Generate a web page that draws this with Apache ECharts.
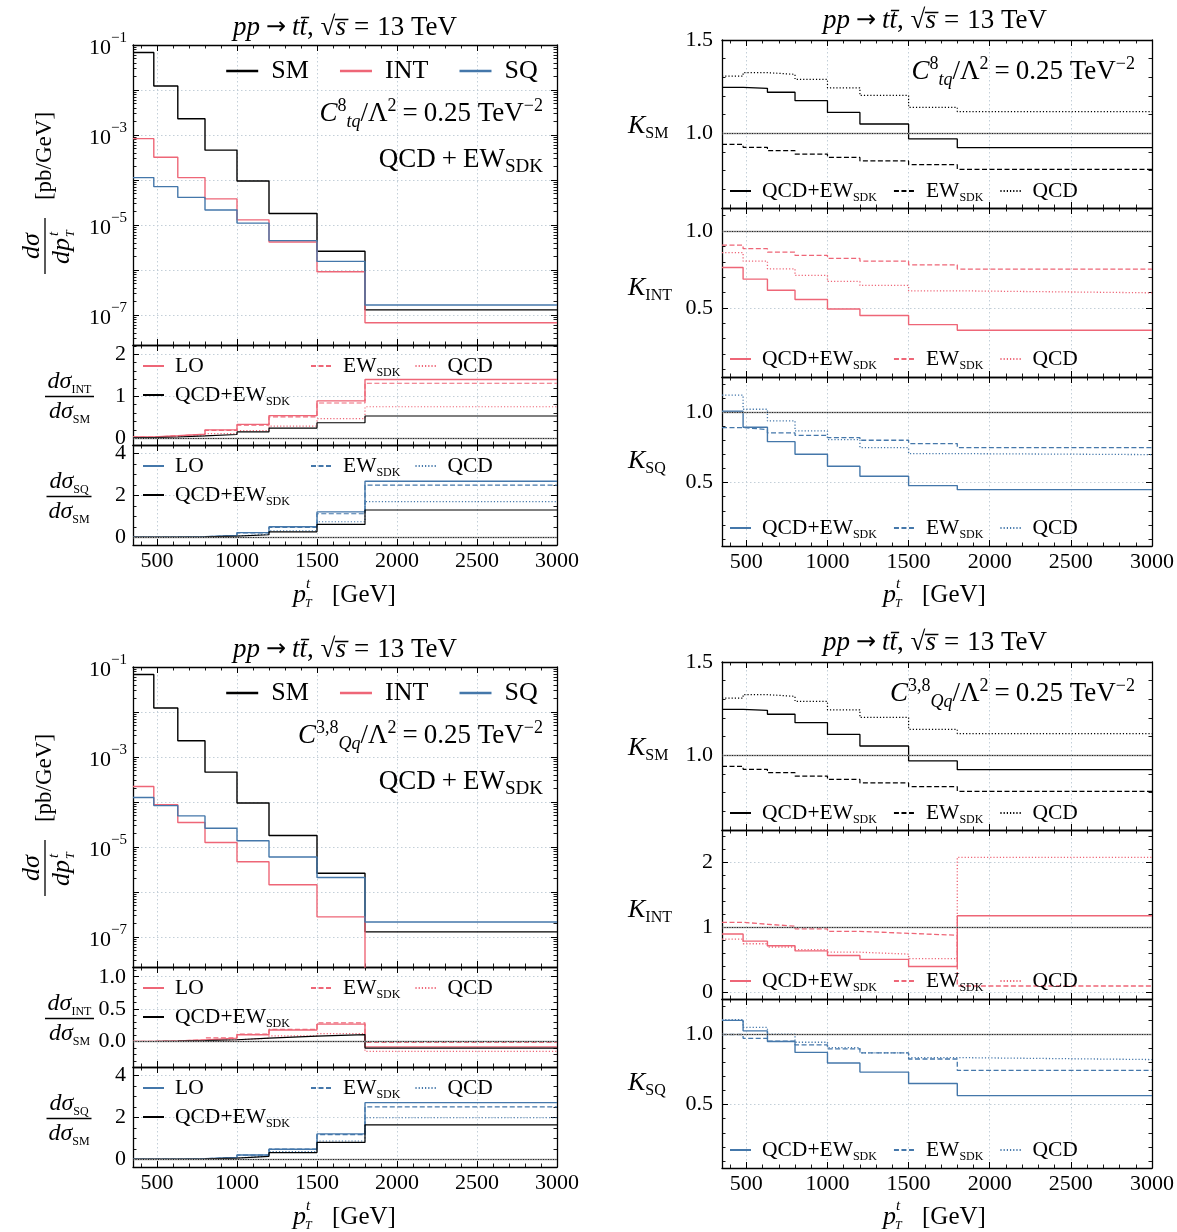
<!DOCTYPE html>
<html>
<head>
<meta charset="utf-8">
<script src="https://cdn.jsdelivr.net/npm/echarts@6.0.0/dist/echarts.min.js"></script>
<style>
html,body{margin:0;padding:0;background:#fff;}
#chart{width:1177px;height:1232px;}
</style>
</head>
<body>
<div id="chart"></div>
<script>
// ---------------- data ----------------
const PT_EDGES = [350, 480, 630, 800, 1000, 1200, 1500, 1800, 3000];
const X_TICKS = [500, 1000, 1500, 2000, 2500, 3000];

// differential cross sections [pb/GeV], QCD+EW_SDK
const SM_XS     = [6.8e-2, 1.23e-2, 2.3e-3, 4.6e-4, 9.5e-5, 1.8e-5, 2.6e-6, 1.3e-7];
const TQ_INT_XS = [8.3e-4, 3.2e-4, 1.13e-4, 3.8e-5, 1.3e-5, 4.2e-6, 9.1e-7, 6.7e-8];
const TQ_SQ_XS  = [1.13e-4, 7.1e-5, 4.1e-5, 2.15e-5, 1.1e-5, 4.5e-6, 1.55e-6, 1.66e-7];
const QQ_INT_XS = [2.2e-4, 8.7e-5, 3.5e-5, 1.26e-5, 4.7e-6, 1.45e-6, 2.8e-7, -1.3e-8];
const QQ_SQ_XS  = [1.26e-4, 8.3e-5, 4.9e-5, 2.6e-5, 1.38e-5, 6.0e-6, 2.1e-6, 2.15e-7];

// ratios dsigma_INT / dsigma_SM  (C_tq^8)
const TQ_RINT_LO    = [0.03, 0.06, 0.10, 0.20, 0.33, 0.54, 0.89, 1.40];
const TQ_RINT_EW    = [0.03, 0.06, 0.095, 0.19, 0.31, 0.51, 0.84, 1.31];
const TQ_RINT_QCD   = [0.02, 0.04, 0.06, 0.11, 0.18, 0.29, 0.47, 0.75];
const TQ_RINT_QCDEW = [0.015, 0.03, 0.055, 0.09, 0.15, 0.24, 0.37, 0.53];
// ratios dsigma_SQ / dsigma_SM  (C_tq^8)
const TQ_RSQ_LO    = [0.003, 0.009, 0.03, 0.09, 0.22, 0.50, 1.21, 2.67];
const TQ_RSQ_EW    = [0.003, 0.008, 0.028, 0.085, 0.21, 0.47, 1.12, 2.49];
const TQ_RSQ_QCD   = [0.003, 0.007, 0.021, 0.06, 0.14, 0.31, 0.74, 1.70];
const TQ_RSQ_QCDEW = [0.002, 0.006, 0.02, 0.05, 0.12, 0.26, 0.61, 1.30];

// ratios (C_Qq^{3,8})
const QQ_RINT_LO    = [0.004, 0.011, 0.025, 0.055, 0.107, 0.18, 0.27, -0.08];
const QQ_RINT_EW    = [0.005, 0.012, 0.028, 0.06, 0.115, 0.19, 0.29, -0.01];
const QQ_RINT_QCD   = [0.003, 0.006, 0.013, 0.028, 0.053, 0.09, 0.125, -0.15];
const QQ_RINT_QCDEW = [0.003, 0.007, 0.015, 0.03, 0.055, 0.085, 0.11, -0.10];
const QQ_RSQ_LO    = [0.002, 0.008, 0.027, 0.08, 0.20, 0.48, 1.21, 2.70];
const QQ_RSQ_EW    = [0.002, 0.008, 0.027, 0.08, 0.20, 0.48, 1.17, 2.50];
const QQ_RSQ_QCD   = [0.002, 0.006, 0.021, 0.06, 0.15, 0.36, 0.87, 1.98];
const QQ_RSQ_QCDEW = [0.002, 0.007, 0.021, 0.057, 0.14, 0.32, 0.80, 1.64];

// K factors, SM
const KSM_QCDEW = [1.246, 1.241, 1.220, 1.175, 1.112, 1.050, 0.970, 0.923];
const KSM_EW    = [0.941, 0.925, 0.907, 0.889, 0.871, 0.852, 0.832, 0.807];
const KSM_QCD   = [1.307, 1.325, 1.316, 1.289, 1.244, 1.203, 1.139, 1.116];
// K factors, C_tq^8
const TQ_KINT_QCDEW = [0.763, 0.687, 0.615, 0.554, 0.493, 0.450, 0.391, 0.354];
const TQ_KINT_EW    = [0.909, 0.885, 0.863, 0.841, 0.822, 0.804, 0.780, 0.752];
const TQ_KINT_QCD   = [0.859, 0.804, 0.754, 0.711, 0.672, 0.646, 0.611, 0.598];
const TQ_KSQ_QCDEW  = [1.007, 0.893, 0.791, 0.701, 0.616, 0.545, 0.479, 0.450];
const TQ_KSQ_EW     = [0.891, 0.877, 0.853, 0.836, 0.820, 0.801, 0.777, 0.749];
const TQ_KSQ_QCD    = [1.121, 1.021, 0.938, 0.867, 0.806, 0.749, 0.706, 0.699];
// K factors, C_Qq^{3,8}
const QQ_KINT_QCDEW = [0.90, 0.79, 0.72, 0.64, 0.57, 0.51, 0.40, 1.18];
const QQ_KINT_EW    = [1.08, 1.05, 1.02, 0.98, 0.94, 0.91, 0.88, 0.10];
const QQ_KINT_QCD   = [0.82, 0.75, 0.70, 0.66, 0.62, 0.59, 0.52, 2.08];
const QQ_KSQ_QCDEW  = [1.098, 1.024, 0.948, 0.871, 0.796, 0.731, 0.650, 0.564];
const QQ_KSQ_EW     = [0.998, 0.971, 0.950, 0.924, 0.896, 0.867, 0.824, 0.743];
const QQ_KSQ_QCD    = [1.103, 1.048, 1.000, 0.943, 0.905, 0.867, 0.834, 0.820];

// tick labels
const LOG_TICKS = [1e-1, 1e-2, 1e-3, 1e-4, 1e-5, 1e-6, 1e-7];
const LOG_LABELS = [1e-1, 1e-3, 1e-5, 1e-7];

// ---------------- styling / helpers ----------------
const FONT = "'Liberation Serif', serif";
const BLACK = '#000000', PINK = '#EE6677', BLUE = '#4477AA';
const DASH = [5, 2.5], DOT = [1.2, 2];
const GRIDLINE = {color: '#c3cfd8', width: 1, type: [1.5, 2.5]};
const X_MIN = 350, X_MAX = 3000;
const LOG_CLIP = 1e-30; // non-positive values are clipped on a log axis (as matplotlib does)

function range(a, b, step) {
  const out = [];
  for (let k = 0; a + k * step <= b + 1e-9; k++) out.push(Math.round((a + k * step) * 1000) / 1000);
  return out;
}
const X_MINOR = range(400, 3000, 100).filter(v => v % 500 !== 0);
const LOG_MINOR = [];
for (let n = -8; n <= -2; n++) for (let k = 2; k <= 9; k++) LOG_MINOR.push(Number(k + 'e' + n));

const LOG_RICH = {
  b: {fontFamily: FONT, fontSize: 22, color: '#000', padding: [6, 0, 0, 0]},
  s: {fontFamily: FONT, fontSize: 15, color: '#000', verticalAlign: 'top'}
};
function logFmt(v) { const e = Math.round(Math.log10(v)); return '{b|10}{s|\u2212' + (-e) + '}'; }
const f1 = v => Number(v).toFixed(1);
const f0 = v => String(Math.round(v));

const Y_MAIN = {type: 'log', min: 2.15e-8, max: 0.1, major: LOG_TICKS, minor: LOG_MINOR, labels: LOG_LABELS, fmt: logFmt, rich: LOG_RICH, margin: 6};
const R_INT_TQ_Y = {type: 'value', min: -0.16, max: 2.22, major: [0, 1, 2], minor: range(0, 2.2, 0.2), labels: [0, 1, 2], fmt: f0, margin: 7};
const R_INT_QQ_Y = {type: 'value', min: -0.39, max: 1.15, major: [0, 0.5, 1.0], minor: range(-0.3, 1.1, 0.1), labels: [0, 0.5, 1.0], fmt: f1, margin: 7};
const R_SQ_Y = {type: 'value', min: -0.37, max: 4.4, major: [0, 2, 4], minor: range(0, 4, 0.5), labels: [0, 2, 4], fmt: f0, margin: 7};
const K_SM_Y = {type: 'value', min: 0.6, max: 1.5, major: [1.0, 1.5], minor: range(0.6, 1.5, 0.1), labels: [1.0, 1.5], fmt: f1, margin: 9};
const K_INT_TQ_Y = {type: 'value', min: 0.05, max: 1.15, major: [0.5, 1.0], minor: range(0.1, 1.1, 0.1), labels: [0.5, 1.0], fmt: f1, margin: 9};
const K_INT_QQ_Y = {type: 'value', min: -0.1, max: 2.5, major: [0, 1, 2], minor: range(0, 2.4, 0.2), labels: [0, 1, 2], fmt: f0, margin: 9};
const K_SQ_Y = {type: 'value', min: 0.05, max: 1.25, major: [0.5, 1.0], minor: range(0.1, 1.2, 0.1), labels: [0.5, 1.0], fmt: f1, margin: 9};
const X_CFG = {type: 'value', min: X_MIN, max: X_MAX, major: X_TICKS, minor: X_MINOR, labels: X_TICKS, fmt: v => String(v), margin: 5};

const grids = [], xAxes = [], yAxes = [], series = [], legends = [], graphics = [];

function addAxes(gi, dim, cfg, showLabels) {
  const list = dim === 'x' ? xAxes : yAxes;
  const positions = dim === 'x' ? ['bottom', 'top'] : ['left', 'right'];
  let mainIndex = -1;
  positions.forEach((pos, k) => {
    const base = {gridIndex: gi, type: cfg.type, min: cfg.min, max: cfg.max, position: pos, silent: true};
    if (cfg.type === 'log') base.logBase = 10;
    if (k === 0) mainIndex = list.length;
    list.push(Object.assign({}, base, {
      axisLine: {show: true, onZero: false, lineStyle: {color: '#000', width: 1.3}},
      axisTick: {show: true, inside: true, length: 6, lineStyle: {color: '#000', width: 1}, customValues: cfg.major},
      axisLabel: {show: k === 0 && showLabels, customValues: cfg.labels, formatter: cfg.fmt, rich: cfg.rich,
        fontFamily: FONT, fontSize: 22, color: '#000', margin: cfg.margin},
      splitLine: {show: k === 0, lineStyle: GRIDLINE},
      minorTick: {show: false}, minorSplitLine: {show: false}
    }));
    list.push(Object.assign({}, base, {
      axisLine: {show: false, onZero: false},
      axisTick: {show: true, inside: true, length: 3.5, lineStyle: {color: '#000', width: 0.9}, customValues: cfg.minor},
      axisLabel: {show: false},
      splitLine: {show: false}
    }));
  });
  return mainIndex;
}

function addPanel(left, top, width, height, ycfg, showX) {
  const gi = grids.length;
  grids.push({left, top, width, height, containLabel: false, outerBoundsMode: 'none'});
  const xi = addAxes(gi, 'x', X_CFG, showX);
  const yi = addAxes(gi, 'y', ycfg, true);
  return {xi, yi};
}

function addStep(p, name, vals, color, dash, width, isLog, extra) {
  const pts = PT_EDGES.map((e, i) => {
    let v = vals[Math.min(i, vals.length - 1)];
    if (isLog && v <= 0) v = LOG_CLIP;
    return [e, v];
  });
  series.push(Object.assign({
    type: 'line', name, xAxisIndex: p.xi, yAxisIndex: p.yi, data: pts, step: 'end',
    symbol: 'none', showSymbol: false, clip: true, silent: true, animation: false,
    lineStyle: {color, width, type: dash}, itemStyle: {color}, emphasis: {disabled: true}
  }, extra || {}));
}

function refLine(value) {
  return {markLine: {silent: true, symbol: 'none', animation: false, label: {show: false},
    data: [
      {yAxis: value, lineStyle: {color: '#9a9a9a', width: 1.3, type: 'solid'}},
      {yAxis: value, lineStyle: {color: '#000', width: 0.8, type: [1, 1.5]}}
    ]}};
}

const LEG_RICH = {
  t: {fontFamily: FONT, fontSize: 21.5, color: '#000', lineHeight: 26, padding: [0, 0, 0, 6]},
  s: {fontFamily: FONT, fontSize: 12, color: '#000', verticalAlign: 'bottom', lineHeight: 13},
  m: {fontFamily: FONT, fontSize: 26, color: '#000', lineHeight: 30, padding: [0, 0, 0, 8]}
};
const LEG_TEXT = {
  LO: '{t|LO}', EW: '{t|EW}{s|SDK}', QCD: '{t|QCD}', QCDEW: '{t|QCD+EW}{s|SDK}',
  SM: '{m|SM}', INT: '{m|INT}', SQ: '{m|SQ}'
};
function addLegend(left, top, names, opt) {
  opt = opt || {};
  legends.push({
    left, top, padding: 0, orient: 'horizontal', selectedMode: false,
    itemWidth: opt.itemWidth || 21, itemHeight: opt.itemHeight || 26, itemGap: opt.itemGap || 15,
    data: names,
    formatter: n => LEG_TEXT[n.split('#')[1]],
    itemStyle: {opacity: 0},
    lineStyle: opt.lineStyle || {},
    textStyle: {fontFamily: FONT, fontSize: 21, color: '#000', rich: LEG_RICH}
  });
}

function gtext(x, y, text, align, rich, font) {
  return {type: 'text', x, y, silent: true, z: 50,
    style: {text, fill: '#000', font: font || ('22px ' + FONT),
      align: align || 'left', verticalAlign: 'middle',
      textAlign: align || 'left', textVerticalAlign: 'middle', rich: rich}};
}

const ANN_RICH = {
  n: {fontFamily: FONT, fontSize: 27, lineHeight: 34},
  op: {fontFamily: FONT, fontSize: 27, lineHeight: 34, padding: [0, 6, 0, 6]},
  i: {fontFamily: FONT, fontSize: 27, fontStyle: 'italic', lineHeight: 34},
  sup: {fontFamily: FONT, fontSize: 18, verticalAlign: 'top', lineHeight: 18},
  sub: {fontFamily: FONT, fontSize: 18, fontStyle: 'italic', verticalAlign: 'bottom', lineHeight: 18},
  subr: {fontFamily: FONT, fontSize: 19, verticalAlign: 'bottom', lineHeight: 19}
};
const TITLE_RICH = {
  n: {fontFamily: FONT, fontSize: 27},
  a: {fontFamily: "'DejaVu Sans', " + FONT, fontSize: 24, padding: [0, 6, 0, 6]},
  e: {fontFamily: FONT, fontSize: 27, padding: [0, 8, 0, 8]},
  i: {fontFamily: FONT, fontSize: 27, fontStyle: 'italic'}
};
const TITLE = '{i|pp}{a|\u2192}{i|tt\u0304}{n|, \u221A}{i|s\u0305}{e|=}{n|13 TeV}';
const FRAC_RICH = {
  i: {fontFamily: FONT, fontSize: 24, fontStyle: 'italic', lineHeight: 28},
  s: {fontFamily: FONT, fontSize: 12, verticalAlign: 'bottom', lineHeight: 12}
};
const K_RICH = {
  k: {fontFamily: FONT, fontSize: 26, fontStyle: 'italic', lineHeight: 32},
  s: {fontFamily: FONT, fontSize: 16, verticalAlign: 'bottom', lineHeight: 16}
};

function fraction(cx, cy, num, den, barW) {
  graphics.push(gtext(cx, cy - 14.5, num, 'center', FRAC_RICH));
  graphics.push({type: 'line', silent: true, z: 50, shape: {x1: cx - barW / 2, y1: cy, x2: cx + barW / 2, y2: cy},
    style: {stroke: '#000', lineWidth: 1.3}});
  graphics.push(gtext(cx, cy + 15, den, 'center', FRAC_RICH));
}

function xTitle(cx, y) {
  graphics.push(gtext(cx - 52, y, 'p', 'left', null, 'italic 26px ' + FONT));
  graphics.push(gtext(cx - 39, y - 11, 't', 'left', null, 'italic 15px ' + FONT));
  graphics.push(gtext(cx - 40, y + 9, 'T', 'left', null, 'italic 12px ' + FONT));
  graphics.push(gtext(cx - 13, y, '[GeV]', 'left', null, '25px ' + FONT));
}

function leftFigure(oy, tag, d) {
  const L = 133, W = 424;
  const pm = addPanel(L, 45 + oy, W, 300, Y_MAIN, false);
  const p1 = addPanel(L, 345 + oy, W, 100, d.rIntY, false);
  const p2 = addPanel(L, 445 + oy, W, 100, R_SQ_Y, true);

  addStep(pm, tag + 'm#SM', SM_XS, BLACK, 'solid', 1.4, true);
  addStep(pm, tag + 'm#INT', d.int, PINK, 'solid', 1.4, true);
  addStep(pm, tag + 'm#SQ', d.sq, BLUE, 'solid', 1.4, true);

  addStep(p1, tag + 'r1#LO', d.rInt[0], PINK, 'solid', 1.4, false, refLine(0));
  addStep(p1, tag + 'r1#EW', d.rInt[1], PINK, DASH, 1.2, false);
  addStep(p1, tag + 'r1#QCD', d.rInt[2], PINK, DOT, 1.2, false);
  addStep(p1, tag + 'r1#QCDEW', d.rInt[3], BLACK, 'solid', 1.2, false);

  addStep(p2, tag + 'r2#LO', d.rSq[0], BLUE, 'solid', 1.4, false, refLine(0));
  addStep(p2, tag + 'r2#EW', d.rSq[1], BLUE, DASH, 1.2, false);
  addStep(p2, tag + 'r2#QCD', d.rSq[2], BLUE, DOT, 1.2, false);
  addStep(p2, tag + 'r2#QCDEW', d.rSq[3], BLACK, 'solid', 1.2, false);

  addLegend(225, 58 + oy, [tag + 'm#SM', tag + 'm#INT', tag + 'm#SQ'],
    {itemWidth: 32, itemHeight: 30, itemGap: 30, lineStyle: {width: 2.4}});
  addLegend(142, 355 + oy, [tag + 'r1#LO']);
  addLegend(310, 355 + oy, [tag + 'r1#EW', tag + 'r1#QCD'], {itemGap: 14});
  addLegend(142, 384 + oy, [tag + 'r1#QCDEW']);
  addLegend(142, 455 + oy, [tag + 'r2#LO']);
  addLegend(310, 455 + oy, [tag + 'r2#EW', tag + 'r2#QCD'], {itemGap: 14});
  addLegend(142, 484 + oy, [tag + 'r2#QCDEW']);

  graphics.push(gtext(543, 114 + oy, d.coupling, 'right', ANN_RICH));
  graphics.push(gtext(543, 160 + oy, '{n|QCD}{op|+}{n|EW}{subr|SDK}', 'right', ANN_RICH));
  graphics.push(gtext(345, 28 + oy, TITLE, 'center', TITLE_RICH));

  // rotated y label of the main panel
  graphics.push({type: 'group', x: 45, y: 246 + oy, rotation: Math.PI / 2, silent: true, z: 50, children: [
    gtext(0, -13, 'd\u03C3', 'center', null, 'italic 26px ' + FONT),
    {type: 'line', silent: true, shape: {x1: -28, y1: 0, x2: 28, y2: 0}, style: {stroke: '#000', lineWidth: 1.3}},
    gtext(-5, 17, 'dp', 'center', null, 'italic 26px ' + FONT),
    gtext(10, 9, 't', 'left', null, 'italic 15px ' + FONT),
    gtext(9, 26, 'T', 'left', null, 'italic 12px ' + FONT),
    gtext(90, 0, '[pb/GeV]', 'center', null, '23px ' + FONT)
  ]});
  fraction(69.5, 396.5 + oy, '{i|d\u03C3}{s|INT}', '{i|d\u03C3}{s|SM}', 49);
  fraction(69, 496.5 + oy, '{i|d\u03C3}{s|SQ}', '{i|d\u03C3}{s|SM}', 45);
  xTitle(345, 595 + oy);
}

function rightFigure(oy, tag, d) {
  const L = 722, W = 430;
  const p1 = addPanel(L, 40 + oy, W, 168, K_SM_Y, false);
  const p2 = addPanel(L, 208 + oy, W, 169, d.kIntY, false);
  const p3 = addPanel(L, 377 + oy, W, 169, K_SQ_Y, true);

  addStep(p1, tag + 'k1#QCDEW', KSM_QCDEW, BLACK, 'solid', 1.3, false, refLine(1));
  addStep(p1, tag + 'k1#EW', KSM_EW, BLACK, DASH, 1.2, false);
  addStep(p1, tag + 'k1#QCD', KSM_QCD, BLACK, DOT, 1.2, false);

  addStep(p2, tag + 'k2#QCDEW', d.kInt[0], PINK, 'solid', 1.4, false, refLine(1));
  addStep(p2, tag + 'k2#EW', d.kInt[1], PINK, DASH, 1.3, false);
  addStep(p2, tag + 'k2#QCD', d.kInt[2], PINK, DOT, 1.3, false);

  addStep(p3, tag + 'k3#QCDEW', d.kSq[0], BLUE, 'solid', 1.4, false, refLine(1));
  addStep(p3, tag + 'k3#EW', d.kSq[1], BLUE, DASH, 1.3, false);
  addStep(p3, tag + 'k3#QCD', d.kSq[2], BLUE, DOT, 1.3, false);

  addLegend(729, 180 + oy, [tag + 'k1#QCDEW', tag + 'k1#EW', tag + 'k1#QCD'], {itemGap: 16});
  addLegend(729, 348 + oy, [tag + 'k2#QCDEW', tag + 'k2#EW', tag + 'k2#QCD'], {itemGap: 16});
  addLegend(729, 517 + oy, [tag + 'k3#QCDEW', tag + 'k3#EW', tag + 'k3#QCD'], {itemGap: 16});

  graphics.push(gtext(1135, 72 + oy, d.coupling, 'right', ANN_RICH));
  graphics.push(gtext(935, 21 + oy, TITLE, 'center', TITLE_RICH));
  graphics.push(gtext(628, 126 + oy, '{k|K}{s|SM}', 'left', K_RICH));
  graphics.push(gtext(628, 288 + oy, '{k|K}{s|INT}', 'left', K_RICH));
  graphics.push(gtext(628, 461 + oy, '{k|K}{s|SQ}', 'left', K_RICH));
  xTitle(935, 595 + oy);
}

const C_TQ = '{i|C}{sup|8}{sub|tq}{n|/\u039B}{sup|2}{op|=}{n|0.25 TeV}{sup|\u22122}';
const C_QQ = '{i|C}{sup|3,8}{sub|Qq}{n|/\u039B}{sup|2}{op|=}{n|0.25 TeV}{sup|\u22122}';

leftFigure(0, 'tq', {int: TQ_INT_XS, sq: TQ_SQ_XS, rIntY: R_INT_TQ_Y, coupling: C_TQ,
  rInt: [TQ_RINT_LO, TQ_RINT_EW, TQ_RINT_QCD, TQ_RINT_QCDEW],
  rSq: [TQ_RSQ_LO, TQ_RSQ_EW, TQ_RSQ_QCD, TQ_RSQ_QCDEW]});
rightFigure(0, 'tqK', {kIntY: K_INT_TQ_Y, coupling: C_TQ,
  kInt: [TQ_KINT_QCDEW, TQ_KINT_EW, TQ_KINT_QCD],
  kSq: [TQ_KSQ_QCDEW, TQ_KSQ_EW, TQ_KSQ_QCD]});
leftFigure(622, 'qq', {int: QQ_INT_XS, sq: QQ_SQ_XS, rIntY: R_INT_QQ_Y, coupling: C_QQ,
  rInt: [QQ_RINT_LO, QQ_RINT_EW, QQ_RINT_QCD, QQ_RINT_QCDEW],
  rSq: [QQ_RSQ_LO, QQ_RSQ_EW, QQ_RSQ_QCD, QQ_RSQ_QCDEW]});
rightFigure(622, 'qqK', {kIntY: K_INT_QQ_Y, coupling: C_QQ,
  kInt: [QQ_KINT_QCDEW, QQ_KINT_EW, QQ_KINT_QCD],
  kSq: [QQ_KSQ_QCDEW, QQ_KSQ_EW, QQ_KSQ_QCD]});

const chart = echarts.init(document.getElementById('chart'), null, {renderer: 'canvas'});
chart.setOption({
  backgroundColor: '#ffffff',
  animation: false,
  grid: grids,
  xAxis: xAxes,
  yAxis: yAxes,
  legend: legends,
  series: series,
  graphic: {elements: graphics}
});
</script>
</body>
</html>
